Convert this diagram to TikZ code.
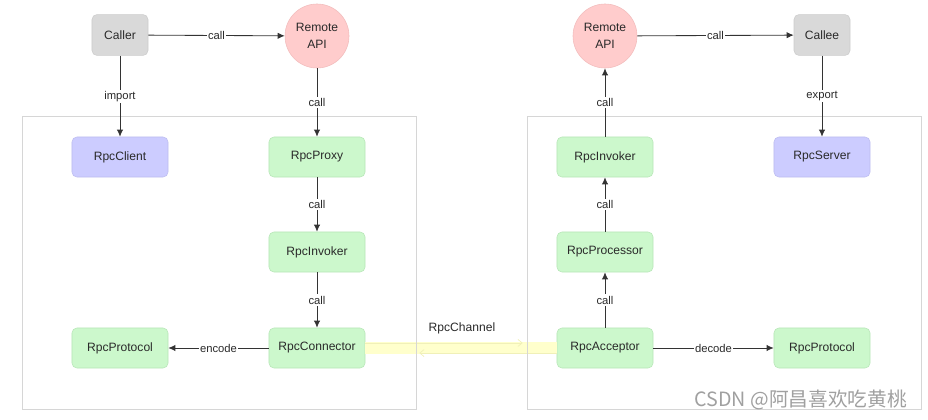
\documentclass[tikz,border=0pt]{standalone}
\usepackage{fontspec}
\setmainfont{Liberation Sans}
\newfontfamily\cjkfont{Noto Sans CJK SC}
\usetikzlibrary{arrows.meta}
\definecolor{greyfill}{HTML}{D9D9D9}
\definecolor{greyline}{HTML}{CCCCCC}
\definecolor{pinkfill}{HTML}{FFCCCC}
\definecolor{pinkline}{HTML}{F2BDBD}
\definecolor{greenfill}{HTML}{CCF8CC}
\definecolor{greenline}{HTML}{B8E6B8}
\definecolor{purplefill}{HTML}{CCCCFF}
\definecolor{purpleline}{HTML}{BDBDF0}
\definecolor{textgrey}{HTML}{2A2A2A}
\definecolor{linegrey}{HTML}{333333}
\definecolor{framegrey}{HTML}{D6D6D6}
\definecolor{bandfill}{HTML}{FFFFCC}
\definecolor{bandline}{HTML}{F0F0B8}
\definecolor{markgrey}{HTML}{A0A0A0}
\tikzset{
	basebox/.style={rounded corners=3.5pt, minimum width=2.4cm, minimum height=1cm, text=textgrey, font=\fontsize{8.6}{10}\selectfont, line width=0.4pt},
	greenbox/.style={basebox, fill=greenfill, draw=greenline},
	purplebox/.style={basebox, fill=purplefill, draw=purpleline},
	greybox/.style={basebox, fill=greyfill, draw=greyline, minimum width=1.4cm, minimum height=1.02cm},
	apicircle/.style={circle, fill=pinkfill, draw=pinkline, minimum size=1.6cm, inner sep=0pt, align=center, text=textgrey, font=\fontsize{8.6}{12}\selectfont},
	lbl/.style={fill=white, inner sep=1pt, text=textgrey, font=\fontsize{8}{9}\selectfont},
	link/.style={->, draw=linegrey, line width=0.6pt},
	container/.style={draw=framegrey, line width=0.5pt},
	bandline/.style={draw=bandfill, line width=8pt},
	bandarrow/.style={-{Straight Barb[length=3pt,width=5pt]}, draw=bandline, line width=0.5pt}
}
\begin{document}
\begin{tikzpicture}[x=0.025cm, y=-0.025cm, >={Latex[length=5pt,width=4.5pt]}]
	\useasboundingbox (0,0) rectangle (928,420);
	% caller side
	\node (caller) at (120,35)[greybox]{Caller};
	\node (apiL) at (317,36)[apicircle]{Remote\\API};
	\node (client) at (120,157)[purplebox]{RpcClient};
	\node (proxy) at (317,157)[greenbox]{RpcProxy};
	\node (invokerL) at (317,252)[greenbox]{RpcInvoker};
	\node (connector) at (317,348)[greenbox]{RpcConnector};
	\node (protocolL) at (120,348)[greenbox]{RpcProtocol};
	% callee side
	\node (apiR) at (605,36)[apicircle]{Remote\\API};
	\node (callee) at (822,35)[greybox]{Callee};
	\node (invokerR) at (605,157)[greenbox]{RpcInvoker};
	\node (server) at (822,157)[purplebox]{RpcServer};
	\node (processor) at (605,252)[greenbox]{RpcProcessor};
	\node (acceptor) at (605,348)[greenbox]{RpcAcceptor};
	\node (protocolR) at (822,348)[greenbox]{RpcProtocol};

	% channel between both sides
	\draw[bandline] (connector.east) -- (acceptor.west);
	\draw[bandarrow] ([yshift=3.6pt]connector.east) -- ([yshift=3.6pt,xshift=-0.85cm]acceptor.west);
	\draw[bandarrow] ([yshift=-3.6pt]acceptor.west) -- ([yshift=-3.6pt,xshift=1.35cm]connector.east);
	\node (channel) at (462,328)[text=textgrey, font=\fontsize{8.6}{10}\selectfont]{RpcChannel};

	% frames
	\draw[container] (22,116) rectangle (416,409);
	\draw[container] (527,116) rectangle (921,409);

	% connectors
	\draw[link] (caller) -- node[lbl]{call} (apiL);
	\draw[link] (caller) -- node[lbl]{import} (client);
	\draw[link] (apiL) -- node[lbl]{call} (proxy);
	\draw[link] (proxy) -- node[lbl]{call} (invokerL);
	\draw[link] (invokerL) -- node[lbl]{call} (connector);
	\draw[link] (connector) -- node[lbl]{encode} (protocolL);
	\draw[link] (apiR) -- node[lbl]{call} (callee);
	\draw[link] (callee) -- node[lbl]{export} (server);
	\draw[link] (invokerR) -- node[lbl]{call} (apiR);
	\draw[link] (processor) -- node[lbl]{call} (invokerR);
	\draw[link] (acceptor) -- node[lbl]{call} (processor);
	\draw[link] (acceptor) -- node[lbl]{decode} (protocolR);

	\node (watermark) at (912,400)[anchor=east, text=markgrey, font=\cjkfont\fontsize{14}{16}\selectfont]{CSDN @阿昌喜欢吃黄桃};
\end{tikzpicture}
\end{document}
